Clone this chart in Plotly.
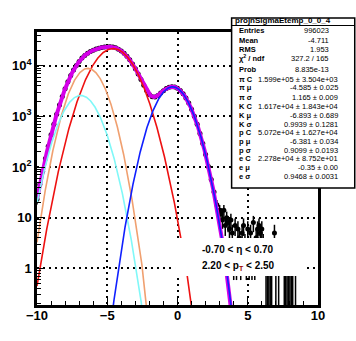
import numpy as np
import plotly.graph_objects as go

# ---------------- data ----------------
# histogram bulk: bin centres -10 .. 3.0 (step 0.2) and counts
bulk_counts = [23, 45, 83, 148, 257, 432, 703, 1106, 1684, 2477,
               3522, 4835, 6411, 8212, 10170, 12192, 14179, 16036, 17695, 19138,
               20358, 21387, 22254, 22964, 23493, 23791, 23782, 23393, 22573, 21310,
               19638, 17640, 15426, 13124, 10869, 8767, 6911, 5360, 4143, 3263,
               2709, 2446, 2428, 2598, 2887, 3225, 3541, 3770, 3868, 3809,
               3595, 3248, 2807, 2322, 1836, 1389, 1005, 696, 460, 291,
               176, 102, 57, 32, 18, 14]
bulk_x = list(np.round(np.arange(-10.0, 3.01, 0.2), 2))

# sparse tail of the histogram
tail_x = [3.1, 3.2, 3.3, 3.4, 3.5, 3.6, 3.7, 3.8, 3.9, 4.0, 4.1, 4.2, 4.3, 4.4, 4.5,
          4.6, 4.7, 4.8, 4.9, 5.0, 5.1, 5.2, 5.3, 5.4, 5.5, 5.6, 5.7, 5.8, 5.9, 6.0,
          6.1, 6.3, 6.4, 6.5, 6.6, 6.7, 6.9, 7.0, 7.2, 7.6, 7.7, 7.8, 7.9, 8.0, 8.1, 8.2, 8.4]
tail_counts = [12, 9, 14, 7, 10, 8, 6, 9, 5, 2, 7, 2, 6, 4, 2,
               5, 7, 3, 2, 6, 2, 5, 2, 8, 2, 4, 6, 7, 5, 6,
               3, 1, 1, 1, 1, 1, 5, 1, 1, 1, 1, 1, 1, 1, 1, 1, 1]

# fit parameters (gaussians: constant, mean, sigma) from the stats box
pi_par = [1.599e5, -4.585, 1.165]
k_par = [1.617e4, -6.893, 0.9939]
p_par = [5.072e4, -6.381, 0.9099]
e_par = [2.278e4, -0.35, 0.9468]
bin_scale = 0.4

# stats box text
stat_labels = ["Entries", "Mean", "RMS", "χ<sup>2</sup> / ndf", "Prob",
               "π C", "π μ", "π σ", "K C", "K μ", "K σ",
               "p C", "p μ", "p σ", "e C", "e μ", "e σ"]
stat_values = ["996023", "-4.711", "1.953", "327.2 / 165", "8.835e-13",
               "1.599e+05 ± 3.504e+03", "-4.585 ± 0.025", "1.165 ± 0.009",
               "1.617e+04 ± 1.843e+04", "-6.893 ± 0.689", "0.9939 ± 0.1281",
               "5.072e+04 ± 1.627e+04", "-6.381 ± 0.034", "0.9099 ± 0.0193",
               "2.278e+04 ± 8.752e+01", "-0.35 ± 0.00", "0.9468 ± 0.0031"]
stat_title = "projnSigmaEtemp_0_0_4"

y_tickvals = [1, 10, 100, 1000, 10000]
y_ticktext = ["1", "10", "10<sup>2</sup>", "10<sup>3</sup>", "10<sup>4</sup>"]
x_tickvals = [-10, -5, 0, 5, 10]

# ---------------- layout geometry ----------------
W, H = 356, 341
L, R, T, B = 35, 318, 32, 305
PW, PH = R - L, B - T


def px(x):
    return (x - L) / PW


def py(y):
    return (B - y) / PH


FONT = "Liberation Sans"


def gaus(x, par):
    c, m, s = par
    return bin_scale * c / (np.sqrt(2 * np.pi) * s) * np.exp(-0.5 * ((x - m) / s) ** 2)


xf = np.linspace(-10, 10, 1201)
f_pi = gaus(xf, pi_par)
f_k = gaus(xf, k_par)
f_p = gaus(xf, p_par)
f_e = gaus(xf, e_par)
f_tot = f_pi + f_k + f_p + f_e

hx = bulk_x + tail_x
hy = np.array(bulk_counts + tail_counts, dtype=float)
err = np.sqrt(hy)
err_minus = np.where(err >= hy, hy * 0.999, err)

fig = go.Figure()
fig.add_trace(go.Scatter(x=hx, y=hy, mode="markers",
                         marker=dict(color="black", size=5, symbol="circle"),
                         error_y=dict(type="data", array=err, arrayminus=err_minus,
                                      color="black", thickness=1.5, width=0),
                         showlegend=False))
fig.add_trace(go.Scatter(x=xf, y=f_tot, mode="lines",
                         line=dict(color="#d400e8", width=4), showlegend=False))
fig.add_trace(go.Scatter(x=xf, y=f_pi, mode="lines",
                         line=dict(color="#ee1111", width=1.6), showlegend=False))
fig.add_trace(go.Scatter(x=xf, y=f_p, mode="lines",
                         line=dict(color="#f0a070", width=1.6), showlegend=False))
fig.add_trace(go.Scatter(x=xf, y=f_k, mode="lines",
                         line=dict(color="#80f8f8", width=1.6), showlegend=False))
fig.add_trace(go.Scatter(x=xf, y=f_e, mode="lines",
                         line=dict(color="#1020ff", width=1.6), showlegend=False))

minor_y = [m * 10 ** d for d in range(-1, 5) for m in range(2, 10)]
minor_y = [v for v in minor_y if 0.19 < v < 46000]

GRID_DASH = "2px,4px"

fig.update_layout(
    width=W, height=H,
    margin=dict(l=L, r=W - R, t=T, b=H - B, pad=0),
    paper_bgcolor="white", plot_bgcolor="white",
    font=dict(family=FONT, color="black"),
    xaxis=dict(range=[-10, 10], showline=True, linecolor="black", linewidth=2.5, mirror=True,
               tickvals=x_tickvals, ticks="inside", ticklen=8, tickwidth=1, tickcolor="black",
               showgrid=True, gridcolor="black", griddash=GRID_DASH, gridwidth=1.5,
               zeroline=False, ticklabelstandoff=-3,
               tickfont=dict(family=FONT, size=13, weight="bold", color="black"),
               minor=dict(tickvals=list(range(-9, 10)), ticks="inside", ticklen=4,
                          tickcolor="black", tickwidth=1, showgrid=False)),
    yaxis=dict(type="log", range=[-0.725, 4.667], showline=True, linecolor="black",
               linewidth=2.5, mirror=True,
               tickvals=y_tickvals, ticktext=y_ticktext, ticks="inside", ticklen=8,
               tickwidth=1, tickcolor="black",
               showgrid=True, gridcolor="black", griddash=GRID_DASH, gridwidth=1.5,
               zeroline=False,
               tickfont=dict(family=FONT, size=13, weight="bold", color="black"),
               minor=dict(tickvals=minor_y, ticks="inside", ticklen=4,
                          tickcolor="black", tickwidth=1, showgrid=False)),
)

shapes = []
# eta / pT label box
shapes.append(dict(type="rect", xref="paper", yref="paper", layer="above",
                   x0=px(174), x1=px(306), y0=py(276), y1=py(238),
                   fillcolor="white", line=dict(width=0)))
# stats box
shapes.append(dict(type="rect", xref="paper", yref="paper", layer="above",
                   x0=px(231), x1=px(355), y0=py(188), y1=py(18),
                   fillcolor="white", line=dict(color="black", width=1.5)))
shapes.append(dict(type="line", xref="paper", yref="paper", layer="above",
                   x0=px(231), x1=px(355), y0=py(25.5), y1=py(25.5),
                   line=dict(color="black", width=1)))
fig.update_layout(shapes=shapes)

ann = []
ann.append(dict(text="<b>-0.70 &lt; η &lt; 0.70</b>", x=px(237), y=py(249.5), xref="paper",
                yref="paper", showarrow=False, xanchor="center", yanchor="middle",
                font=dict(family=FONT, size=10, color="black")))
ann.append(dict(text="<b>2.20 &lt; p<sub><span style='color:#a00000'>T</span></sub> &lt; 2.50</b>",
                x=px(238), y=py(265.5), xref="paper", yref="paper", showarrow=False,
                xanchor="center", yanchor="middle",
                font=dict(family=FONT, size=10, color="black")))
ann.append(dict(text=stat_title, x=px(283), y=py(21.0), xref="paper", yref="paper",
                showarrow=False, xanchor="center", yanchor="middle",
                font=dict(family=FONT, size=8, color="black", weight="bold")))
row_y = [30, 40.5, 49, 58, 69, 79, 87.5, 97, 106.5, 115, 124, 132.5, 141, 150, 158.5, 167, 176]
for i, (lab, val) in enumerate(zip(stat_labels, stat_values)):
    yy = py(row_y[i])
    ann.append(dict(text=lab, x=px(236), y=yy, xref="paper", yref="paper", showarrow=False,
                    xanchor="left", yanchor="middle",
                    font=dict(family=FONT, size=7.5, color="black", weight="bold")))
    xr = 331 if i < 5 else 340
    ann.append(dict(text=val, x=px(xr), y=yy, xref="paper", yref="paper", showarrow=False,
                    xanchor="right", yanchor="middle",
                    font=dict(family=FONT, size=7.5, color="black")))
fig.update_layout(annotations=ann)

fig.write_html("out.html")
